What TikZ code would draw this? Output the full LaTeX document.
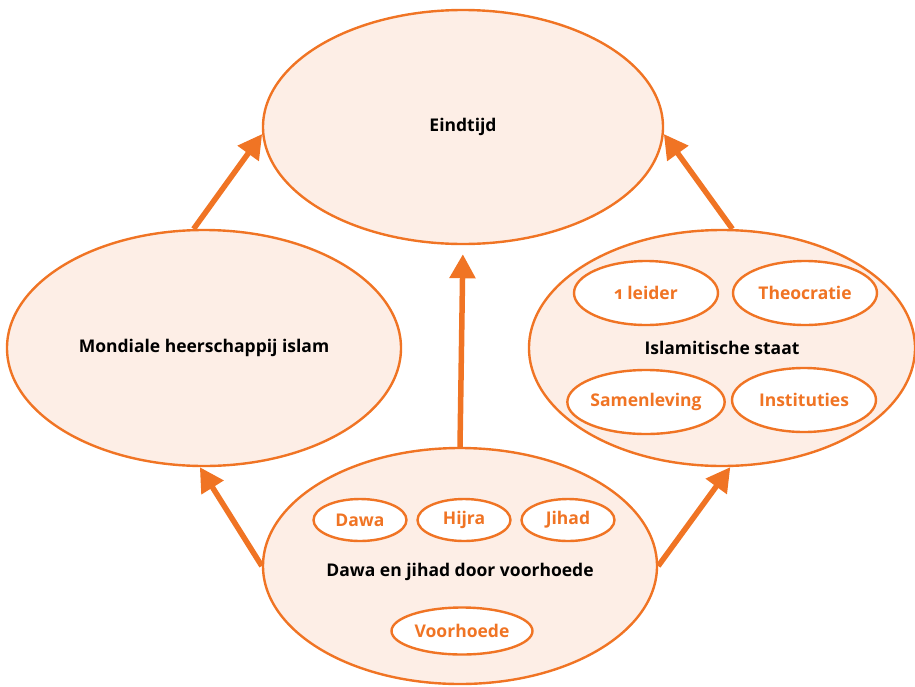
\documentclass[tikz,border=0pt]{standalone}
\usepackage{fontspec}
\setmainfont{Open Sans}
\usetikzlibrary{shapes.geometric,arrows.meta}
\definecolor{oranje}{HTML}{F07424}
\definecolor{zacht}{HTML}{FDEEE6}

\begin{document}
\begin{tikzpicture} [
                x=1pt, y=-1pt,
                groot/.style={ellipse,draw=oranje,line width=2.4pt,fill=zacht,inner sep=0pt,font=\fontsize{17.5}{20}\selectfont\bfseries},
                klein/.style={ellipse,draw=oranje,line width=2.4pt,fill=white,inner sep=0pt,text=oranje,font=\fontsize{17.5}{20}\selectfont\bfseries},
                pijl/.style = {draw=oranje,line width=5.5pt,-{Triangle[length=24pt,width=25pt]}},
            ]
            \useasboundingbox (0,0) rectangle (915,686);
            \node[groot,minimum width=400pt,minimum height=234pt] (eindtijd) at (463,127) {Eindtijd};
            \node[groot,minimum width=394pt,minimum height=236pt] (mondiaal) at (204,348) {Mondiale heerschappij islam};
            \node[groot,minimum width=386pt,minimum height=236pt] (staat) at (722,348) {Islamitische staat};
            \node[groot,minimum width=394pt,minimum height=236pt] (dawa) at (460,566) {};
            \node[font=\fontsize{17.5}{20}\selectfont\bfseries] (dawatekst) at (460,572) {Dawa en jihad door voorhoede};
            \foreach \pos/\name/\tekst in {
                    {(646,293)/leider/\oldstylenums{1} leider}, {(805,293)/theocratie/Theocratie},
                    {(646,402)/samenleving/Samenleving}, {(804,400)/instituties/Instituties}}
                \node[klein,minimum width=144pt,minimum height=64pt] (\name) at \pos {\tekst};
            \foreach \pos/\name/\tekst in {
                    {(360,520)/dawaklein/Dawa}, {(464,520)/hijra/Hijra}, {(568,520)/jihad/Jihad}}
                \node[klein,minimum width=93pt,minimum height=42pt] (\name) at \pos {\tekst};
            \node[klein,minimum width=141pt,minimum height=47pt] (voorhoede) at (462,631) {Voorhoede};
            \foreach \source/ \dest in {
                    mondiaal.95/eindtijd.182, staat.85/eindtijd.358,
                    dawa.180/mondiaal.-92, dawa.0/staat.-86}
                \path[pijl] (\source) -- (\dest);
            \path[pijl,shorten >=9pt] (dawa.north) -- (eindtijd.south);
        \end{tikzpicture}
\end{document}
